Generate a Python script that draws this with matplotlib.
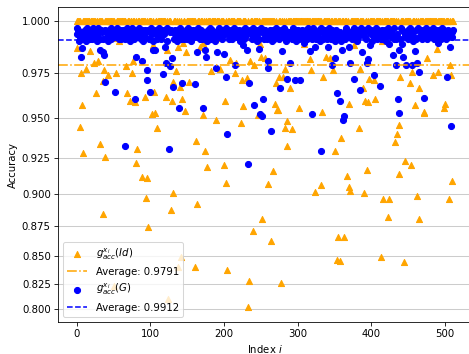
import numpy as np
import matplotlib
matplotlib.use("Agg")
import matplotlib.pyplot as plt
from matplotlib.ticker import MultipleLocator, FormatStrFormatter

n_points = 512

# g_acc(Id): most samples sit at 1.000, these are the ones that do not
id_idx = [1, 18, 6, 13, 24, 29, 37, 53, 43, 35, 26, 7, 68, 72, 79, 67, 76, 75, 93, 105,
          102, 106, 52, 58, 86, 103, 122, 121, 138, 144, 143, 148, 147, 167, 171, 172,
          195, 194, 208, 216, 215, 235, 240, 249, 250, 256, 230, 231, 135, 182, 224, 130,
          140, 153, 129, 201, 226, 271, 274, 280, 290, 282, 269, 272, 302, 308, 317, 318,
          334, 338, 344, 348, 376, 385, 397, 396, 404, 389, 391, 405, 369, 333, 439, 455,
          452, 464, 465, 459, 472, 475, 484, 490, 489, 506, 505, 508, 509, 500, 499, 346,
          414, 4, 109, 189, 223, 32, 82, 162, 163, 174, 8, 38, 81, 89, 96, 177, 200, 203,
          94, 131, 128, 36, 97, 239, 246, 273, 285, 283, 292, 286, 383, 359, 351, 437,
          435, 432, 471, 446, 454, 267, 394, 438, 367, 259, 331, 370, 371, 324, 390, 416,
          424, 462, 252, 422, 264, 354, 363, 142, 161, 204, 124, 51, 137, 353, 357, 413,
          444, 234, 277, 232]
id_val = [0.9875, 0.986, 0.975, 0.977, 0.980, 0.981, 0.9765, 0.975, 0.9737, 0.9705, 0.964,
          0.9575, 0.964, 0.9595, 0.959, 0.9785, 0.981, 0.975, 0.962, 0.9645, 0.952, 0.953,
          0.9925, 0.991, 0.995, 0.989, 0.9866, 0.962, 0.988, 0.990, 0.961, 0.9855, 0.954,
          0.988, 0.990, 0.9515, 0.9925, 0.977, 0.9816, 0.9802, 0.975, 0.981, 0.979, 0.9895,
          0.983, 0.9825, 0.993, 0.9725, 0.976, 0.9758, 0.9712, 0.970, 0.9675, 0.970, 0.9595,
          0.9595, 0.957, 0.9695, 0.973, 0.973, 0.9667, 0.977, 0.958, 0.9546, 0.9556, 0.9895,
          0.982, 0.9765, 0.973, 0.983, 0.9828, 0.9765, 0.989, 0.977, 0.972, 0.959, 0.9715,
          0.967, 0.9595, 0.9607, 0.958, 0.9535, 0.973, 0.9755, 0.9695, 0.9667, 0.881, 0.9575,
          0.9535, 0.9825, 0.974, 0.9755, 0.987, 0.979, 0.8958, 0.974, 0.909, 0.958, 0.9556,
          0.994, 0.991, 0.9448, 0.9437, 0.949, 0.9468, 0.9338, 0.931, 0.936, 0.8922, 0.9295,
          0.9283, 0.9257, 0.9217, 0.912, 0.9115, 0.919, 0.9205, 0.908, 0.8965, 0.9003, 0.8882,
          0.8847, 0.8747, 0.8715, 0.9516, 0.9546, 0.948, 0.944, 0.9435, 0.9326, 0.944, 0.9378,
          0.9295, 0.9455, 0.9405, 0.9355, 0.953, 0.923, 0.9205, 0.9162, 0.9167, 0.9143, 0.913,
          0.907, 0.906, 0.905, 0.9017, 0.901, 0.9007, 0.896, 0.896, 0.8986, 0.8808, 0.8826,
          0.863, 0.866, 0.866, 0.849, 0.8405, 0.8375, 0.810, 0.823, 0.840, 0.847, 0.8455,
          0.849, 0.845, 0.8278, 0.8253, 0.802]

# g_acc(G): dense band just under 1.000, read as thousandths below 1
g_band = [
    3, 6, 4, 9, 5, 7, 4, 3, 8, 5, 6, 4, 9, 5, 3, 7, 4, 6, 8, 5, 4, 8, 3, 6, 5, 7, 4, 9, 6, 3, 5, 8,
    7, 4, 5, 8, 6, 3, 8, 4, 5, 7, 6, 9, 4, 5, 3, 8, 6, 4, 7, 5, 9, 4, 6, 3, 5, 7, 8, 4, 8, 5, 6, 4,
    5, 8, 4, 6, 3, 7, 5, 4, 9, 6, 5, 3, 7, 4, 8, 5, 6, 8, 4, 7, 5, 3, 6, 8, 4, 5, 9, 6, 4, 7, 5, 3,
    6, 4, 8, 5, 7, 3, 6, 9, 4, 5, 7, 4, 6, 8, 5, 3, 7, 6, 4, 8, 5, 8, 4, 6, 7, 5, 3, 9, 4, 6, 5, 7,
    4, 7, 5, 3, 8, 6, 4, 5, 9, 7, 4, 6, 3, 8, 5, 4, 7, 6, 8, 5, 4, 8, 6, 3, 5, 7, 4, 9, 6, 5, 4, 7,
    8, 5, 4, 6, 3, 7, 5, 8, 4, 6, 8, 5, 3, 7, 4, 6, 5, 9, 4, 7, 6, 3, 8, 5, 4, 6, 7, 5, 9, 4, 6, 8,
    5, 3, 7, 4, 6, 8, 5, 4, 9, 6, 3, 7, 5, 4, 8, 6, 5, 7, 4, 8, 5, 6, 3, 8, 4, 7, 5, 6, 4, 9, 5, 7,
    6, 4, 5, 8, 3, 7, 6, 4, 5, 8, 7, 4, 6, 5, 8, 3, 6, 7, 4, 5, 9, 6, 4, 8, 5, 7, 3, 6, 5, 4, 8, 7,
    4, 6, 8, 5, 3, 7, 4, 6, 5, 9, 4, 7, 8, 5, 6, 3, 7, 4, 5, 8, 6, 4, 8, 5, 7, 3, 6, 4, 9, 5, 6, 7,
    5, 7, 4, 6, 8, 3, 5, 7, 6, 4, 9, 5, 4, 8, 6, 3, 7, 5, 4, 6, 8, 5, 7, 4, 8, 6, 3, 5, 7, 4, 6, 8,
    6, 3, 7, 5, 4, 8, 6, 5, 7, 4, 9, 6, 3, 5, 8, 4, 7, 6, 5, 4, 8, 7, 5, 3, 6, 8, 4, 5, 7, 6, 4, 9,
    4, 8, 5, 6, 7, 3, 5, 9, 4, 6, 7, 5, 8, 4, 3, 6, 5, 7, 4, 9, 6, 5, 8, 4, 7, 3, 6, 5, 9, 4, 7, 6,
    7, 5, 3, 8, 4, 6, 5, 7, 8, 4, 6, 3, 8, 5, 7, 4, 6, 9, 5, 4, 7, 6, 3, 8, 5, 4, 7, 6, 5, 8, 4, 8,
    5, 6, 4, 7, 9, 5, 3, 6, 8, 4, 7, 5, 6, 4, 8, 3, 7, 5, 8, 6, 4, 5, 7, 8, 3, 6, 4, 9, 5, 7, 6, 4,
    6, 4, 8, 5, 7, 3, 6, 4, 5, 9, 7, 6, 4, 8, 5, 3, 7, 6, 4, 5, 8, 7, 4, 6, 7, 5, 3, 8, 6, 4, 7, 5,
    4, 7, 5, 6, 3, 8, 5, 7, 4, 6, 9, 5, 4, 7, 6, 8, 3, 5, 7, 4, 6, 8, 5, 7, 4, 6, 8, 5, 3, 7, 5, 4,
]
g_idx = [3, 7, 6, 32, 36, 37, 38, 52, 79, 81, 89, 96, 95, 100, 104, 106, 120, 121, 129,
         127, 117, 143, 131, 160, 163, 174, 176, 191, 200, 189, 203, 215, 226, 231, 234,
         240, 253, 249, 248, 260, 259, 278, 290, 286, 276, 296, 172, 139, 309, 317, 324,
         341, 350, 347, 360, 370, 371, 387, 398, 396, 394, 376, 384, 403, 412, 353, 357,
         362, 363, 320, 303, 429, 437, 443, 441, 433, 447, 455, 462, 459, 465, 424, 436,
         438, 472, 502, 491, 506, 66, 125, 204, 233, 251, 263, 331, 508]
g_val = [0.991, 0.9875, 0.983, 0.9866, 0.9855, 0.984, 0.970, 0.9645, 0.961, 0.983, 0.981,
         0.9765, 0.9715, 0.9645, 0.9866, 0.9865, 0.988, 0.980, 0.9825, 0.9785, 0.9745, 0.9698,
         0.9675, 0.9692, 0.9855, 0.9865, 0.983, 0.9855, 0.9847, 0.9775, 0.973, 0.979, 0.989,
         0.9865, 0.9698, 0.9577, 0.961, 0.952, 0.987, 0.981, 0.9775, 0.986, 0.9802, 0.972,
         0.9667, 0.9715, 0.9556, 0.9556, 0.990, 0.986, 0.988, 0.988, 0.9828, 0.979, 0.9866,
         0.988, 0.980, 0.9855, 0.9889, 0.982, 0.980, 0.972, 0.966, 0.974, 0.968, 0.964, 0.9595,
         0.949, 0.951, 0.9525, 0.9713, 0.984, 0.9865, 0.983, 0.9895, 0.979, 0.979, 0.979, 0.980,
         0.986, 0.9755, 0.9895, 0.961, 0.953, 0.9617, 0.973, 0.990, 0.988, 0.933, 0.931, 0.9405,
         0.921, 0.951, 0.9418, 0.9297, 0.945]

avg_id = 0.9791
avg_g = 0.9912

acc_id = np.ones(n_points)
acc_id[id_idx] = id_val
acc_g = 1.0 - np.array(g_band) / 1000.0
acc_g[g_idx] = g_val
x = np.arange(n_points)

# y axis is stretched towards 1.0
c = 1.16
def fwd(y):
    return -np.log(np.clip(c - y, 1e-9, None))
def inv(t):
    return c - np.exp(-t)

fig = plt.figure(figsize=(6.4, 4.83), dpi=73.3)
ax = fig.add_axes([0.1235, 0.0912, 0.8827, 0.8881])

ax.scatter(x, acc_id, marker='^', color='orange', s=36,
           label=r'$g^{x_i}_{acc}(Id)$')
ax.axhline(avg_id, color='orange', linestyle='-.', linewidth=1.5,
           label='Average: %.4f' % avg_id)
ax.scatter(x, acc_g, marker='o', color='blue', s=36,
           label=r'$g^{x_i}_{acc}(G)$')
ax.axhline(avg_g, color='blue', linestyle='--', linewidth=1.5,
           label='Average: %.4f' % avg_g)

ax.set_yscale('function', functions=(fwd, inv))
ax.set_ylim(0.7872, 1.0062)
ax.set_xlim(-25.55, 536.55)
ax.yaxis.set_major_locator(MultipleLocator(0.025))
ax.yaxis.set_major_formatter(FormatStrFormatter('%.3f'))
ax.yaxis.set_minor_locator(plt.NullLocator())
ax.grid(axis='y', color='#cccccc', linewidth=1.0)
ax.set_axisbelow(True)

ax.set_xlabel('Index $i$')
ax.set_ylabel('Accuracy')
ax.legend(loc='lower left')

fig.savefig('out.png', dpi=73.3)
